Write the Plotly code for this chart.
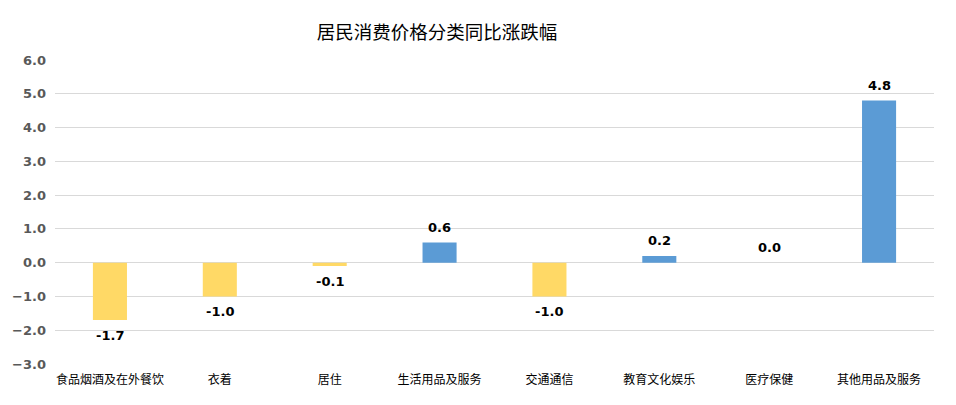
import plotly.graph_objects as go

# 分类及同比涨跌幅（%）
categories = ["食品烟酒及在外餐饮", "衣着", "居住", "生活用品及服务",
              "交通通信", "教育文化娱乐", "医疗保健", "其他用品及服务"]
values = [-1.7, -1.0, -0.1, 0.6, -1.0, 0.2, 0.0, 4.8]

color_up = "#5B9BD5"
color_down = "#FFD966"
bar_colors = [color_up if v > 0 else color_down for v in values]

fig = go.Figure()
fig.add_trace(go.Bar(
    x=categories,
    y=values,
    marker=dict(color=bar_colors, line=dict(width=0)),
    hoverinfo="x+y",
))

# 数据标签：正值在上方，负值在下方
for c, v in zip(categories, values):
    fig.add_annotation(
        x=c, y=v, text="%.1f" % v, showarrow=False,
        yshift=15 if v >= 0 else -15,
        font=dict(family="DejaVu Sans", size=13, color="#000000", weight="bold"),
    )

fig.update_layout(
    width=956, height=405,
    margin=dict(l=55, r=22, t=60, b=41),
    paper_bgcolor="white", plot_bgcolor="white",
    showlegend=False,
    bargap=0.69,
    title=dict(text="居民消费价格分类同比涨跌幅", x=0.457, xanchor="center",
               y=0.92, yanchor="middle",
               font=dict(family="Noto Sans CJK SC", size=18.5, color="#000000")),
    xaxis=dict(showgrid=False, showline=False, ticks="", ticklabelstandoff=7,
               tickfont=dict(family="Noto Sans CJK SC", size=12, color="#000000")),
    yaxis=dict(range=[-3, 6], dtick=1, tickformat=".1f",
               showgrid=True, gridcolor="#D9D9D9", gridwidth=1,
               zeroline=True, zerolinecolor="#D9D9D9", zerolinewidth=1,
               showline=False, ticks="", ticklabelstandoff=8,
               tickfont=dict(family="DejaVu Sans", size=13, color="#595959", weight="bold")),
)

fig.write_html("out.html", config={"displayModeBar": False},
               post_script="document.body.style.margin='0';")
